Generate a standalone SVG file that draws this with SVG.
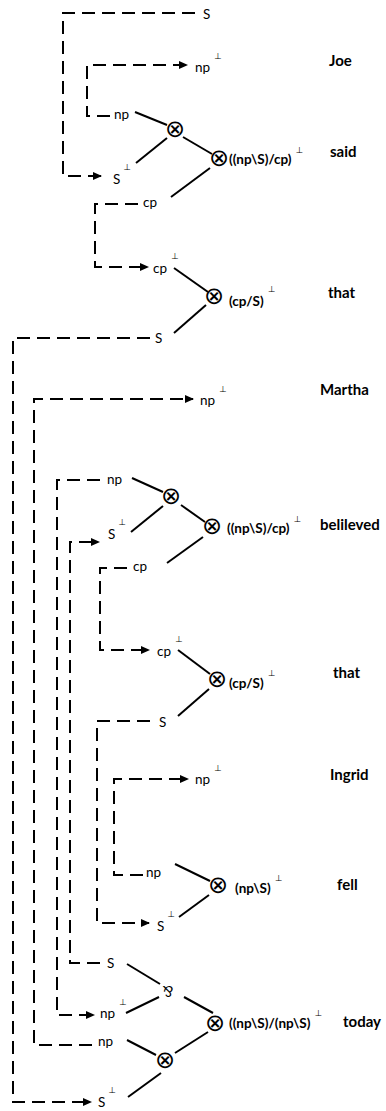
<svg xmlns="http://www.w3.org/2000/svg" width="386" height="1111" viewBox="0 0 386 1111">
<style>
.dash{fill:none;stroke:#000;stroke-width:2;stroke-dasharray:13 7}
.arr{marker-end:url(#ah)}
.ln{stroke:#000;stroke-width:2;fill:none}
.lb{font-family:Lato,"Liberation Sans",sans-serif;font-size:13.5px;fill:#000}
.fm{font-family:Lato,"Liberation Sans",sans-serif;font-size:13.5px;font-weight:bold;fill:#000}
.wd{font-family:Lato,"Liberation Sans",sans-serif;font-size:15px;font-weight:bold;fill:#000}
.sup{font-family:"DejaVu Sans",sans-serif;font-size:8.5px;font-weight:normal;fill:#000}
.op{font-family:"DejaVu Sans",sans-serif;font-size:24px;fill:#000;text-anchor:middle}
.par{font-family:Lato,"Liberation Sans",sans-serif;font-size:15px;fill:#000;text-anchor:middle}
</style>
<defs>
<marker id="ah" markerWidth="9" markerHeight="8" refX="8" refY="4" orient="auto" markerUnits="userSpaceOnUse"><path d="M0,0 L9,4 L0,8 z" fill="#000"/></marker>
</defs>
<g id="connectors">
<path class="dash arr" d="M195,13 H63 V176 H101"/>
<path class="dash arr" d="M110,116 H87 V65 H187"/>
<path class="dash arr" d="M138,204 H95 V267 H148"/>
<path class="dash arr" d="M150,338 H13 V1102 H91"/>
<path class="dash arr" d="M92,1045 H34 V399 H193"/>
<path class="dash arr" d="M100,480 H57 V1015 H94"/>
<path class="dash arr" d="M100,963 H70 V542 H99"/>
<path class="dash arr" d="M127,568 H100 V650 H149"/>
<path class="dash arr" d="M150,721 H97 V923 H149"/>
<path class="dash arr" d="M143,875 H114 V779 H188"/>
<line class="ln" x1="135" y1="112" x2="167" y2="125"/>
<line class="ln" x1="167" y1="138" x2="136" y2="163"/>
<line class="ln" x1="183" y1="137" x2="212" y2="154"/>
<line class="ln" x1="210" y1="168" x2="171" y2="197"/>
<line class="ln" x1="174" y1="268" x2="208" y2="292"/>
<line class="ln" x1="206" y1="305" x2="174" y2="333"/>
<line class="ln" x1="132" y1="478" x2="163" y2="492"/>
<line class="ln" x1="163" y1="506" x2="131" y2="532"/>
<line class="ln" x1="181" y1="505" x2="205" y2="522"/>
<line class="ln" x1="203" y1="537" x2="167" y2="563"/>
<line class="ln" x1="178" y1="650" x2="210" y2="674"/>
<line class="ln" x1="209" y1="689" x2="178" y2="716"/>
<line class="ln" x1="175" y1="864" x2="210" y2="881"/>
<line class="ln" x1="209" y1="895" x2="179" y2="917"/>
<line class="ln" x1="127" y1="964" x2="160" y2="984"/>
<line class="ln" x1="126" y1="1013" x2="159" y2="997"/>
<line class="ln" x1="184" y1="997" x2="213" y2="1013"/>
<line class="ln" x1="127" y1="1040" x2="156" y2="1055"/>
<line class="ln" x1="175" y1="1053" x2="208" y2="1032"/>
<line class="ln" x1="161" y1="1073" x2="128" y2="1097"/>
</g>
<g id="said-block">
<g id="n-s-top"><text class="lb" x="203" y="19">S</text></g>
<g id="n-joe"><text class="wd" x="329" y="66">Joe</text></g>
<g id="n-np-perp-joe"><text class="lb" x="195" y="72">np<tspan class="sup" dx="4" dy="-13">⊥</tspan></text></g>
<g id="n-np-said"><text class="lb" x="114" y="119">np</text></g>
<g id="n-tensor-said1"><text class="op" x="175" y="137">⊗</text></g>
<g id="n-tensor-said2"><text class="op" x="219" y="166">⊗</text></g>
<g id="n-type-said"><text class="fm" x="229" y="164">((np\S)/cp)<tspan class="sup" dx="4" dy="-11">⊥</tspan></text></g>
<g id="n-said"><text class="wd" x="330" y="157">said</text></g>
<g id="n-s-perp-said"><text class="lb" x="113" y="184">S<tspan class="sup" dx="3" dy="-14">⊥</tspan></text></g>
<g id="n-cp-said"><text class="lb" x="143" y="207">cp</text></g>
</g>
<g id="that1-block">
<g id="n-cp-perp-that1"><text class="lb" x="153" y="273">cp<tspan class="sup" dx="4" dy="-14">⊥</tspan></text></g>
<g id="n-tensor-that1"><text class="op" x="214" y="304">⊗</text></g>
<g id="n-type-that1"><text class="fm" x="229" y="306">(cp/S)<tspan class="sup" dx="4" dy="-14">⊥</tspan></text></g>
<g id="n-that1"><text class="wd" x="328" y="298">that</text></g>
<g id="n-s-that1"><text class="lb" x="155" y="343">S</text></g>
</g>
<g id="martha-block">
<g id="n-martha"><text class="wd" x="320" y="395">Martha</text></g>
<g id="n-np-perp-martha"><text class="lb" x="200" y="405">np<tspan class="sup" dx="4" dy="-13">⊥</tspan></text></g>
</g>
<g id="believed-block">
<g id="n-np-believed"><text class="lb" x="107" y="484">np</text></g>
<g id="n-tensor-bel1"><text class="op" x="171" y="504">⊗</text></g>
<g id="n-s-perp-believed"><text class="lb" x="108" y="539">S<tspan class="sup" dx="3" dy="-14">⊥</tspan></text></g>
<g id="n-tensor-bel2"><text class="op" x="212" y="534">⊗</text></g>
<g id="n-type-believed"><text class="fm" x="227" y="533">((np\S)/cp)<tspan class="sup" dx="4" dy="-11">⊥</tspan></text></g>
<g id="n-believed"><text class="wd" x="320" y="530">belileved</text></g>
<g id="n-cp-believed"><text class="lb" x="133" y="571">cp</text></g>
</g>
<g id="that2-block">
<g id="n-cp-perp-that2"><text class="lb" x="157" y="656">cp<tspan class="sup" dx="4" dy="-14">⊥</tspan></text></g>
<g id="n-tensor-that2"><text class="op" x="217" y="687">⊗</text></g>
<g id="n-type-that2"><text class="fm" x="229" y="688">(cp/S)<tspan class="sup" dx="4" dy="-12">⊥</tspan></text></g>
<g id="n-that2"><text class="wd" x="333" y="678">that</text></g>
<g id="n-s-that2"><text class="lb" x="159" y="727">S</text></g>
</g>
<g id="ingrid-block">
<g id="n-ingrid"><text class="wd" x="330" y="780">Ingrid</text></g>
<g id="n-np-perp-ingrid"><text class="lb" x="195" y="784">np<tspan class="sup" dx="4" dy="-13">⊥</tspan></text></g>
</g>
<g id="fell-block">
<g id="n-np-fell"><text class="lb" x="146" y="877">np</text></g>
<g id="n-tensor-fell"><text class="op" x="218" y="893">⊗</text></g>
<g id="n-type-fell"><text class="fm" x="235" y="893">(np\S)<tspan class="sup" dx="4" dy="-12">⊥</tspan></text></g>
<g id="n-fell"><text class="wd" x="337" y="890">fell</text></g>
<g id="n-s-perp-fell"><text class="lb" x="157" y="931">S<tspan class="sup" dx="3" dy="-14">⊥</tspan></text></g>
</g>
<g id="today-block">
<g id="n-s-today"><text class="lb" x="107" y="968">S</text></g>
<g id="n-par-today"><text class="par" x="168" y="996.5" transform="rotate(180 168 991)">&amp;</text></g>
<g id="n-np-perp-today"><text class="lb" x="100" y="1018">np<tspan class="sup" dx="4" dy="-13">⊥</tspan></text></g>
<g id="n-tensor-today1"><text class="op" x="215" y="1031">⊗</text></g>
<g id="n-type-today"><text class="fm" x="229" y="1028">((np\S)/(np\S)<tspan class="sup" dx="4" dy="-12">⊥</tspan></text></g>
<g id="n-today"><text class="wd" x="343" y="1027">today</text></g>
<g id="n-np-today"><text class="lb" x="98" y="1046">np</text></g>
<g id="n-tensor-today2"><text class="op" x="165" y="1068">⊗</text></g>
<g id="n-s-perp-today"><text class="lb" x="98" y="1107">S<tspan class="sup" dx="3" dy="-14">⊥</tspan></text></g>
</g>
</svg>
